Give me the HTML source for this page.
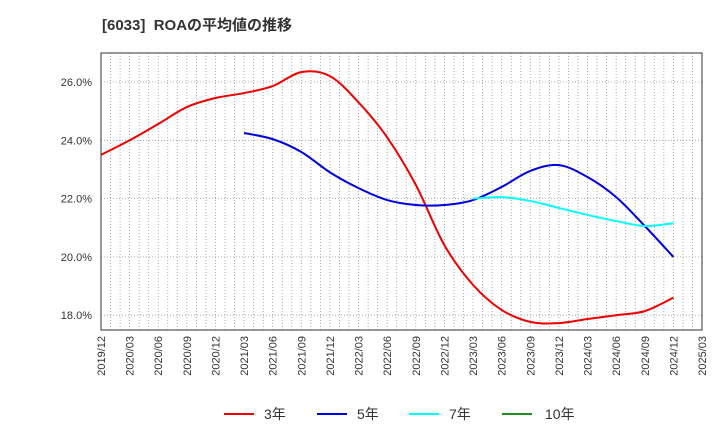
<!DOCTYPE html>
<html><head><meta charset="utf-8"><style>
body{margin:0;background:#fff;font-family:"Liberation Sans","Noto Sans CJK JP",sans-serif;}
</style></head><body>
<svg width="720" height="440" xmlns="http://www.w3.org/2000/svg" font-family="Liberation Sans, Noto Sans CJK JP, sans-serif">
<text x="102" y="30" font-size="15" font-weight="bold" fill="#333">[6033]&#160; ROAの平均値の推移</text>
<g id="grid"></g>
<g id="series"></g>
<rect x="101" y="53" width="601" height="277" fill="none" stroke="#333" stroke-width="1"/>
<g id="ylabels"></g><g id="xlabels"></g>
<g>
<line x1="224" y1="414" x2="254" y2="414" stroke="#e00" stroke-width="2"/><text x="264" y="419" font-size="14" fill="#333">3年</text>
<line x1="317" y1="414" x2="347" y2="414" stroke="#0000dd" stroke-width="2"/><text x="357" y="419" font-size="14" fill="#333">5年</text>
<line x1="409" y1="414" x2="439" y2="414" stroke="#0ff" stroke-width="2"/><text x="449" y="419" font-size="14" fill="#333">7年</text>
<line x1="502" y1="414" x2="532" y2="414" stroke="#228b22" stroke-width="2"/><text x="545" y="419" font-size="14" fill="#333">10年</text>
</g>
</svg>
<script>
const xTicks=["2019/12","2020/03","2020/06","2020/09","2020/12","2021/03","2021/06","2021/09","2021/12","2022/03","2022/06","2022/09","2022/12","2023/03","2023/06","2023/09","2023/12","2024/03","2024/06","2024/09","2024/12","2025/03"];
const yTicks=[18,20,22,24,26];
const s3=[23.5,24.0,24.56,25.14,25.45,25.62,25.86,26.34,26.2,25.3,24.1,22.47,20.4,19.04,18.18,17.77,17.73,17.87,18.0,18.14,18.6];
const s5=[24.25,24.04,23.6,22.9,22.36,21.95,21.78,21.78,21.95,22.4,22.95,23.15,22.74,22.05,21.06,20.0];
const s7=[22.0,22.05,21.92,21.68,21.44,21.23,21.06,21.16];
const s3Start=0,s5Start=5,s7Start=13;
const NS="http://www.w3.org/2000/svg";
const X=i=>101+i*601/21, Y=v=>82+(26-v)*(58.3/2);
function mk(t,a,p){const e=document.createElementNS(NS,t);for(const k in a)e.setAttribute(k,a[k]);document.getElementById(p).appendChild(e);return e;}
for(let m=1;m<63;m++){const x=101+m*601/63;
 const l=mk('line',{x1:x,y1:53,x2:x,y2:330,stroke:'#999','stroke-width':0.8,'stroke-dasharray':'1,2'},'grid');
 }
yTicks.forEach(v=>{const l=mk('line',{x1:101,y1:Y(v),x2:702,y2:Y(v),stroke:'#999','stroke-width':0.8,'stroke-dasharray':'1,2'},'grid');
 
 const t=mk('text',{x:92,y:Y(v)+4,'font-size':11,'text-anchor':'end',fill:'#333'},'ylabels');t.textContent=v.toFixed(1)+'%';
 });
xTicks.forEach((s,i)=>{const x=X(i)+4;const t=mk('text',{x:x,y:336,'font-size':11,'text-anchor':'end',fill:'#333',transform:`rotate(-90 ${x} 336)`},'xlabels');t.textContent=s;
 });
function path(vals,start){const p=vals.map((v,i)=>[X(start+i),Y(v)]);let d=`M${p[0][0]},${p[0][1]}`;
 for(let i=0;i<p.length-1;i++){const p0=p[i-1]||p[i],p1=p[i],p2=p[i+1],p3=p[i+2]||p2;
 d+=` C${p1[0]+(p2[0]-p0[0])/6},${p1[1]+(p2[1]-p0[1])/6} ${p2[0]-(p3[0]-p1[0])/6},${p2[1]-(p3[1]-p1[1])/6} ${p2[0]},${p2[1]}`;}return d;}
[[s3,s3Start,'#e00','series-3y'],[s5,s5Start,'#0000dd','series-5y'],[s7,s7Start,'#0ff','series-7y']].forEach(([v,s,c,n])=>{
 const e=mk('path',{d:path(v,s),fill:'none',stroke:c,'stroke-width':2},'series');
 });
</script>
</body></html>
